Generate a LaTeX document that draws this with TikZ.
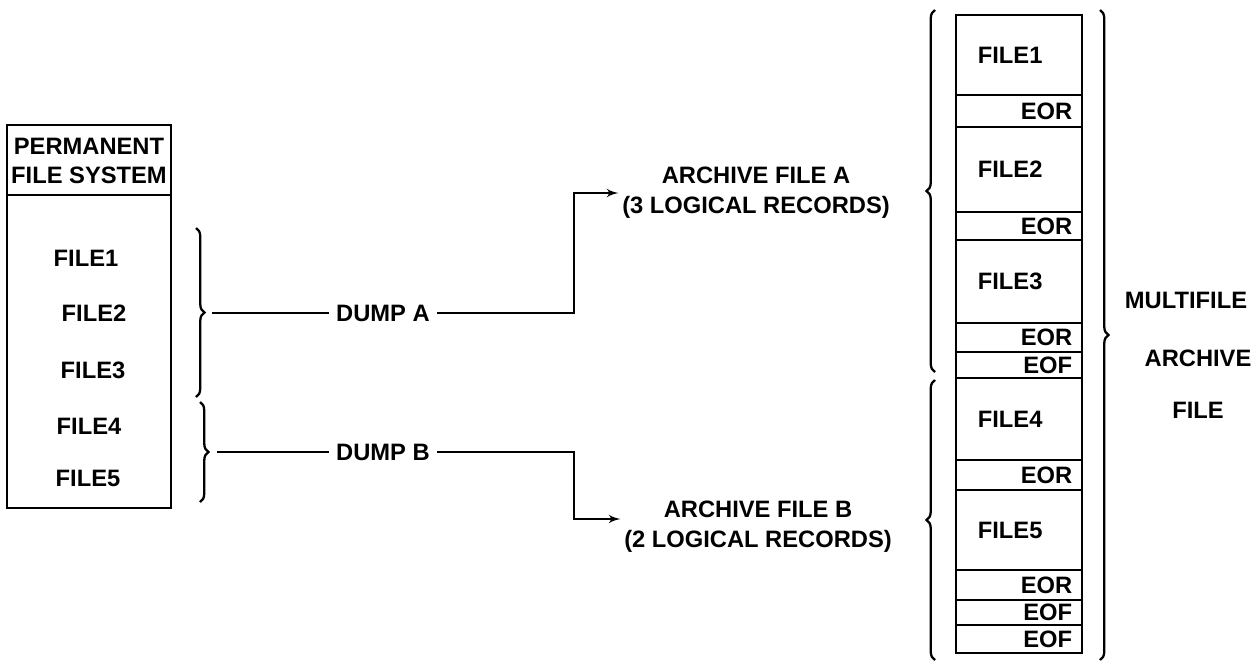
\documentclass[tikz,border=0pt]{standalone}
\usepackage{fontspec}
\setmainfont{Liberation Sans}
\usetikzlibrary{arrows, decorations.pathreplacing, calc}
\tikzset{
    >=latex',
    frame/.style={line width=1.3pt},
    lettering/.style={font=\bfseries\fontsize{13.5}{17}\selectfont, inner sep=2pt},
    curly/.style={frame, decorate, decoration={brace, amplitude=#1}},
    curly/.default=0.17cm,
}

\begin{document}
\begin{tikzpicture}[x=0.02cm, y=-0.02cm]
        \useasboundingbox (0,0) rectangle (1257,664);
        % permanent file system
        \draw[frame] (7,125) rectangle (171,508);
        \draw[frame] (7,195) -- (171,195);
        \node[lettering, align=center] (pfs) at (89,161) {PERMANENT\\FILE SYSTEM};
        \foreach \i/\x/\y in {1/86/258, 2/94/313, 3/93/370, 4/89/426, 5/88/478}
            \node[lettering] (pf_\i) at (\x,\y) {FILE\i};
        \draw[curly] (196,228) -- (196,397);
        \draw[curly] (200,402) -- (200,502);
        \coordinate (start_A) at (212,313);
        \coordinate (start_B) at (217,452);
        \coordinate (bend) at (574,0);
        % dumps
        \node[lettering, inner xsep=4pt] (dump_A) at (383,313) {DUMP A};
        \node[lettering, inner xsep=4pt] (dump_B) at (383,452) {DUMP B};
        \node[lettering, align=center] (arch_A) at (756,193) {ARCHIVE FILE A\\(3 LOGICAL RECORDS)};
        \node[lettering, align=center] (arch_B) at (758,527) {ARCHIVE FILE B\\(2 LOGICAL RECORDS)};
        \foreach \n in {A,B}
            \draw[frame] (start_\n) -- (dump_\n);
        \draw[frame, ->] (dump_A) -- (dump_A -| bend) |- (arch_A.west);
        \draw[frame, ->] (dump_B) -- (dump_B -| bend) |- ([yshift=0.16cm]arch_B.west);
        % multifile archive file
        \foreach \i/\top/\bot in {1/15/95, 2/127/212, 3/240/323, 4/378/460, 5/490/570} {
            \draw[frame] (956,\top) rectangle (1082,\bot);
            \node[lettering, anchor=west] (mf_\i) at (974,{(\top+\bot)/2}) {FILE\i};
        }
        \foreach \i/\top/\bot/\mark in {1/95/127/EOR, 2/212/240/EOR, 3/323/352/EOR, 4/352/378/EOF,
                                        5/460/490/EOR, 6/570/600/EOR, 7/600/625/EOF, 8/625/653/EOF} {
            \draw[frame] (956,\top) rectangle (1082,\bot);
            \node[lettering, anchor=east] (eo_\i) at (1076,{(\top+\bot)/2}) {\mark};
        }
        \draw[curly] (935,372) -- (935,10);
        \draw[curly] (935,660) -- (935,380);
        \draw[curly] (1100,10) -- (1100,660);
        \node[lettering] (multi_1) at (1186,300) {MULTIFILE};
        \node[lettering] (multi_2) at (1198,358) {ARCHIVE};
        \node[lettering] (multi_3) at (1198,410) {FILE};
\end{tikzpicture}
\end{document}
